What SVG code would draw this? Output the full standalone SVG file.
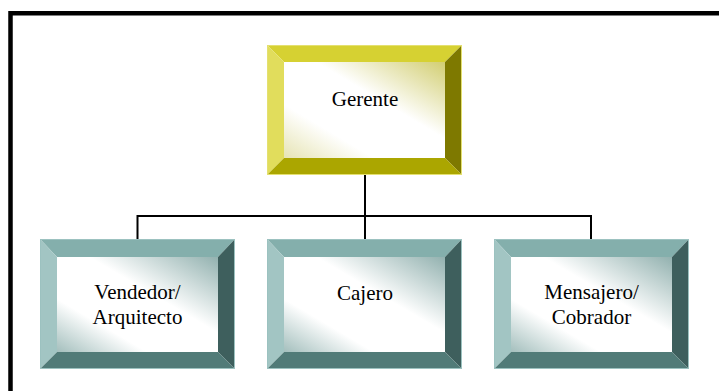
<svg xmlns="http://www.w3.org/2000/svg" width="719" height="391" viewBox="0 0 719 391">
  <style>
    .label { font-family: "Liberation Serif", "Times New Roman", serif; font-size: 21px; fill: #000; text-anchor: middle; }
    .wire { fill: none; stroke: #000; stroke-width: 2; }
    .frame { fill: none; stroke: #000; stroke-width: 4.5; }
    .y-top { fill: #d6d132; } .y-left { fill: #e1dd5c; } .y-right { fill: #7e7900; } .y-bot { fill: #aba600; }
    .y-edge { fill: none; stroke: #e4e070; stroke-width: 1; }
    .t-top { fill: #84afac; } .t-left { fill: #a2c5c3; } .t-right { fill: #3e5f5d; } .t-bot { fill: #517b78; }
    .t-edge { fill: none; stroke: #9cc2c0; stroke-width: 1; }
  </style>
  <defs>
    <linearGradient id="faceYellow" x1="1" y1="0" x2="0" y2="1">
      <stop offset="0" stop-color="#d2ce72"/>
      <stop offset="0.4" stop-color="#ffffff"/>
      <stop offset="0.72" stop-color="#ffffff"/>
      <stop offset="1" stop-color="#e6e4b4"/>
    </linearGradient>
    <linearGradient id="faceTeal" x1="1" y1="0" x2="0" y2="1">
      <stop offset="0" stop-color="#92b1af"/>
      <stop offset="0.4" stop-color="#ffffff"/>
      <stop offset="0.72" stop-color="#ffffff"/>
      <stop offset="1" stop-color="#a4bfbd"/>
    </linearGradient>
  </defs>

  <rect width="719" height="391" fill="#fff"/>

  <!-- page frame -->
  <path class="frame" d="M10.5 391 V13.25 H719"/>

  <!-- connectors -->
  <g id="connectors">
    <path class="wire" d="M365 175 V239"/>
    <path class="wire" d="M137.5 239 V216 H591 V239"/>
  </g>

  <!-- top node -->
  <g id="gerente">
    <polygon class="y-top" points="267,45 462,45 445,62 284,62"/>
    <polygon class="y-left" points="267,45 284,62 284,158 267,175"/>
    <polygon class="y-right" points="462,45 462,175 445,158 445,62"/>
    <polygon class="y-bot" points="267,175 284,158 445,158 462,175"/>
    <rect x="284" y="62" width="161" height="96" fill="url(#faceYellow)"/>
    <rect class="y-edge" x="267.5" y="45.5" width="194" height="129"/>
    <text class="label" x="365" y="106">Gerente</text>
  </g>

  <!-- lower nodes -->
  <g id="vendedor">
    <polygon class="t-top" points="40,239 235,239 218,257 57,257"/>
    <polygon class="t-left" points="40,239 57,257 57,352 40,369"/>
    <polygon class="t-right" points="235,239 235,369 218,352 218,257"/>
    <polygon class="t-bot" points="40,369 57,352 218,352 235,369"/>
    <rect x="57" y="257" width="161" height="95" fill="url(#faceTeal)"/>
    <rect class="t-edge" x="40.5" y="239.5" width="194" height="129"/>
    <text class="label" x="137.5" y="299">Vendedor/</text>
    <text class="label" x="137.5" y="324">Arquitecto</text>
  </g>

  <g id="cajero">
    <polygon class="t-top" points="267,239 462,239 445,257 284,257"/>
    <polygon class="t-left" points="267,239 284,257 284,352 267,369"/>
    <polygon class="t-right" points="462,239 462,369 445,352 445,257"/>
    <polygon class="t-bot" points="267,369 284,352 445,352 462,369"/>
    <rect x="284" y="257" width="161" height="95" fill="url(#faceTeal)"/>
    <rect class="t-edge" x="267.5" y="239.5" width="194" height="129"/>
    <text class="label" x="365" y="300">Cajero</text>
  </g>

  <g id="mensajero">
    <polygon class="t-top" points="494,239 689,239 672,257 511,257"/>
    <polygon class="t-left" points="494,239 511,257 511,352 494,369"/>
    <polygon class="t-right" points="689,239 689,369 672,352 672,257"/>
    <polygon class="t-bot" points="494,369 511,352 672,352 689,369"/>
    <rect x="511" y="257" width="161" height="95" fill="url(#faceTeal)"/>
    <rect class="t-edge" x="494.5" y="239.5" width="194" height="129"/>
    <text class="label" x="591.5" y="299">Mensajero/</text>
    <text class="label" x="591.5" y="324">Cobrador</text>
  </g>
</svg>
